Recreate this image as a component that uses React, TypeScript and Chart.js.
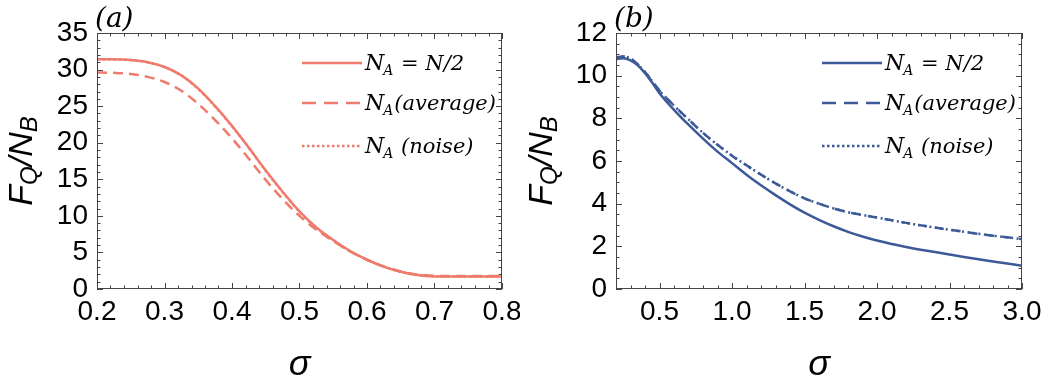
import React, { useEffect, useRef } from 'react';
import { Chart, registerables } from 'chart.js';
Chart.register(...registerables);

// ---------- Panel (a) data ----------
const sigmaA = [0.2, 0.225, 0.25, 0.275, 0.3, 0.325, 0.35, 0.375, 0.4, 0.425, 0.45, 0.475, 0.5, 0.525, 0.55, 0.575, 0.6, 0.625, 0.65, 0.675, 0.7, 0.725, 0.75, 0.775, 0.8];
const halfA = [31.4, 31.4, 31.3, 31.0, 30.35, 29.2, 27.4, 25.0, 22.3, 19.3, 16.2, 13.3, 10.6, 8.4, 6.7, 5.2, 4.0, 3.05, 2.35, 1.9, 1.72, 1.7, 1.7, 1.7, 1.7];
const averageA = [29.6, 29.55, 29.4, 29.0, 28.3, 27.1, 25.3, 23.1, 20.6, 17.8, 14.9, 12.3, 10.0, 8.1, 6.55, 5.15, 4.0, 3.05, 2.4, 1.95, 1.8, 1.78, 1.78, 1.78, 1.78];
const noiseA = [31.4, 31.4, 31.3, 31.0, 30.35, 29.2, 27.35, 24.95, 22.25, 19.3, 16.15, 13.25, 10.55, 8.35, 6.65, 5.15, 4.0, 3.05, 2.35, 1.9, 1.75, 1.72, 1.72, 1.72, 1.72];
const xTicksA = [0.2, 0.3, 0.4, 0.5, 0.6, 0.7, 0.8];
const xLabelsA = ['0.2', '0.3', '0.4', '0.5', '0.6', '0.7', '0.8'];
const yTicksA = [0, 5, 10, 15, 20, 25, 30, 35];
const yLabelsA = ['0', '5', '10', '15', '20', '25', '30', '35'];

// ---------- Panel (b) data ----------
const sigmaB = [0.2, 0.25, 0.3, 0.35, 0.4, 0.45, 0.5, 0.6, 0.7, 0.8, 0.9, 1.0, 1.1, 1.2, 1.3, 1.4, 1.5, 1.6, 1.7, 1.8, 1.9, 2.0, 2.2, 2.4, 2.6, 2.8, 3.0];
const halfB = [10.78, 10.82, 10.72, 10.48, 10.12, 9.67, 9.18, 8.4, 7.7, 7.05, 6.44, 5.9, 5.36, 4.86, 4.4, 3.97, 3.58, 3.24, 2.94, 2.68, 2.46, 2.27, 1.97, 1.73, 1.5, 1.29, 1.09];
const averageB = [10.85, 10.9, 10.8, 10.53, 10.17, 9.74, 9.3, 8.6, 7.95, 7.32, 6.76, 6.25, 5.8, 5.36, 4.95, 4.58, 4.25, 4.0, 3.78, 3.6, 3.47, 3.35, 3.1, 2.88, 2.68, 2.5, 2.34];
const noiseB = [10.85, 10.9, 10.8, 10.53, 10.17, 9.74, 9.3, 8.6, 7.95, 7.32, 6.76, 6.25, 5.8, 5.36, 4.95, 4.58, 4.25, 4.0, 3.78, 3.6, 3.47, 3.35, 3.1, 2.88, 2.68, 2.5, 2.34];
const xTicksB = [0.5, 1.0, 1.5, 2.0, 2.5, 3.0];
const xLabelsB = ['0.5', '1.0', '1.5', '2.0', '2.5', '3.0'];
const yTicksB = [0, 2, 4, 6, 8, 10, 12];
const yLabelsB = ['0', '2', '4', '6', '8', '10', '12'];

const legendRest = [' = N/2', '(average)', ' (noise)'];
const seriesNames = ['N_A = N/2', 'N_A(average)', 'N_A (noise)'];

const colorA = '#EE7B6B';
const colorB = '#3D5A98';

const TICK_FONT = '"Liberation Sans", Arial, sans-serif';
const SERIF = '"DejaVu Serif", serif';

function toPoints(xs: number[], ys: number[]) {
  return xs.map((x, i) => ({ x, y: ys[i] }));
}

const framePlugin = {
  id: 'frame',
  afterDraw(chart: any) {
    const cfg = chart.options.plugins.frame;
    if (!cfg) return;
    const ctx = chart.ctx;
    const { left, right, top, bottom } = chart.chartArea;
    const xs = chart.scales.x;
    const ys = chart.scales.y;
    ctx.save();
    ctx.strokeStyle = '#444';
    ctx.lineWidth = 1;
    ctx.setLineDash([]);
    ctx.strokeRect(Math.round(left) + 0.5, Math.round(top) + 0.5, Math.round(right - left) - 1, Math.round(bottom - top) - 1);
    const drawXTicks = (min: number, max: number, minor: number, major: number) => {
      const n = Math.round((max - min) / minor);
      for (let i = 0; i <= n; i++) {
        const v = min + i * minor;
        const isMajor = Math.abs(v / major - Math.round(v / major)) < 1e-6;
        const len = isMajor ? 6 : 3.5;
        const px = Math.round(xs.getPixelForValue(v)) + 0.5;
        ctx.beginPath();
        ctx.moveTo(px, bottom);
        ctx.lineTo(px, bottom - len);
        ctx.moveTo(px, top);
        ctx.lineTo(px, top + len);
        ctx.stroke();
      }
    };
    const drawYTicks = (min: number, max: number, minor: number, major: number) => {
      const n = Math.round((max - min) / minor);
      for (let i = 0; i <= n; i++) {
        const v = min + i * minor;
        const isMajor = Math.abs(v / major - Math.round(v / major)) < 1e-6;
        const len = isMajor ? 6 : 3.5;
        const py = Math.round(ys.getPixelForValue(v)) + 0.5;
        ctx.beginPath();
        ctx.moveTo(left, py);
        ctx.lineTo(left + len, py);
        ctx.moveTo(right, py);
        ctx.lineTo(right - len, py);
        ctx.stroke();
      }
    };
    drawXTicks(cfg.xMin, cfg.xMax, cfg.xMinor, cfg.xMajor);
    drawYTicks(cfg.yMin, cfg.yMax, cfg.yMinor, cfg.yMajor);

    ctx.fillStyle = '#000';
    ctx.font = `italic 28px ${SERIF}`;
    ctx.textAlign = 'left';
    ctx.textBaseline = 'alphabetic';
    ctx.fillText(cfg.panel, left - 2, 27);

    ctx.font = `italic 36px ${TICK_FONT}`;
    ctx.textAlign = 'center';
    ctx.fillText('σ', (left + right) / 2, 375);

    ctx.save();
    ctx.translate(22, (top + bottom) / 2);
    ctx.rotate(-Math.PI / 2);
    const big = `italic 34px ${TICK_FONT}`;
    const small = `italic 24px ${TICK_FONT}`;
    const parts: [string, string, number][] = [
      ['F', big, 0],
      ['Q', small, 7],
      ['/', big, 0],
      ['N', big, 0],
      ['B', small, 7],
    ];
    let total = 0;
    parts.forEach(([t, f]) => { ctx.font = f; total += ctx.measureText(t).width; });
    let cx = -total / 2;
    ctx.textAlign = 'left';
    ctx.textBaseline = 'middle';
    parts.forEach(([t, f, dy]) => {
      ctx.font = f;
      ctx.fillText(t, cx, dy + 1);
      cx += ctx.measureText(t).width;
    });
    ctx.restore();

    const lx0 = cfg.legendX;
    const lx1 = lx0 + 60;
    const lys = [63, 103, 146];
    const dashes = [[], [14, 8], [2.5, 2.5]];
    lys.forEach((ly, i) => {
      ctx.strokeStyle = cfg.color;
      ctx.lineWidth = 2.5;
      ctx.setLineDash(dashes[i]);
      ctx.beginPath();
      ctx.moveTo(lx0, ly);
      ctx.lineTo(lx1, ly);
      ctx.stroke();
      ctx.setLineDash([]);
      ctx.fillStyle = '#000';
      ctx.textAlign = 'left';
      ctx.textBaseline = 'alphabetic';
      let tx = lx1 + 3;
      const base = ly + 7;
      ctx.font = `italic 22px ${SERIF}`;
      ctx.fillText('N', tx, base);
      tx += ctx.measureText('N').width - 1;
      ctx.font = `italic 14px ${SERIF}`;
      ctx.fillText('A', tx, base + 5);
      tx += ctx.measureText('A').width + 1;
      ctx.font = `italic 21px ${SERIF}`;
      ctx.fillText(legendRest[i], tx, base);
    });
    ctx.restore();
  },
};

interface PanelCfg {
  x: number;
  w: number;
  left: number;
  right: number;
  panel: string;
  color: string;
  sigma: number[];
  half: number[];
  average: number[];
  noise: number[];
  xMin: number; xMax: number; xMinor: number; xMajor: number;
  yMin: number; yMax: number; yMinor: number; yMajor: number;
  xTicks: number[]; xLabels: string[];
  yTicks: number[]; yLabels: string[];
  avgDash: number[];
}

function Panel({ cfg }: { cfg: PanelCfg }) {
  const ref = useRef<HTMLCanvasElement | null>(null);
  useEffect(() => {
    if (!ref.current) return;
    const chart = new Chart(ref.current, {
      type: 'line',
      data: {
        datasets: [
          {
            label: seriesNames[0],
            data: toPoints(cfg.sigma, cfg.half),
            borderColor: cfg.color,
            borderWidth: 2.5,
            pointRadius: 0,
            cubicInterpolationMode: 'monotone',
            order: 1,
          },
          {
            label: seriesNames[1],
            data: toPoints(cfg.sigma, cfg.average),
            borderColor: cfg.color,
            borderWidth: 2.5,
            borderDash: cfg.avgDash,
            pointRadius: 0,
            cubicInterpolationMode: 'monotone',
            order: 2,
          },
          {
            label: seriesNames[2],
            data: toPoints(cfg.sigma, cfg.noise),
            borderColor: cfg.color,
            borderWidth: 2.5,
            borderDash: [2, 3.5],
            borderCapStyle: 'butt',
            pointRadius: 0,
            cubicInterpolationMode: 'monotone',
            order: 0,
          },
        ] as any,
      },
      options: {
        responsive: false,
        animation: false,
        devicePixelRatio: 1,
        layout: { padding: { left: 0, right: cfg.w - cfg.right, top: 33, bottom: 0 } },
        plugins: {
          legend: { display: false },
          tooltip: { enabled: false },
          frame: {
            panel: cfg.panel,
            color: cfg.color,
            legendX: 302,
            xMin: cfg.xMin, xMax: cfg.xMax, xMinor: cfg.xMinor, xMajor: cfg.xMajor,
            yMin: cfg.yMin, yMax: cfg.yMax, yMinor: cfg.yMinor, yMajor: cfg.yMajor,
          },
        } as any,
        scales: {
          x: {
            type: 'linear',
            min: cfg.xMin,
            max: cfg.xMax,
            grid: { display: false, drawTicks: false },
            border: { display: false },
            afterBuildTicks: (s: any) => { s.ticks = cfg.xTicks.map((v) => ({ value: v })); },
            afterFit: (s: any) => { s.height = 383 - 289; s.paddingLeft = 0; s.paddingRight = 0; },
            ticks: {
              autoSkip: false,
              maxRotation: 0,
              color: '#000',
              padding: 6,
              font: { family: TICK_FONT, size: 28 },
              callback: (_v: any, i: number) => cfg.xLabels[i],
            },
          },
          y: {
            type: 'linear',
            min: cfg.yMin,
            max: cfg.yMax,
            grid: { display: false, drawTicks: false },
            border: { display: false },
            afterBuildTicks: (s: any) => { s.ticks = cfg.yTicks.map((v) => ({ value: v })); },
            afterFit: (s: any) => { s.width = cfg.left; s.paddingTop = 0; s.paddingBottom = 0; },
            ticks: {
              autoSkip: false,
              color: '#000',
              padding: 9,
              font: { family: TICK_FONT, size: 28 },
              callback: (_v: any, i: number) => cfg.yLabels[i],
            },
          },
        } as any,
      },
      plugins: [framePlugin],
    });
    return () => chart.destroy();
  }, []);
  return (
    <canvas
      ref={ref}
      width={cfg.w}
      height={383}
      style={{ position: 'absolute', left: cfg.x, top: 0, width: cfg.w, height: 383, display: 'block' }}
    />
  );
}

const panelA: PanelCfg = {
  x: 0, w: 520, left: 97, right: 502, panel: '(a)', color: colorA,
  sigma: sigmaA, half: halfA, average: averageA, noise: noiseA,
  xMin: 0.2, xMax: 0.8, xMinor: 0.02, xMajor: 0.1,
  yMin: 0, yMax: 35, yMinor: 1, yMajor: 5,
  xTicks: xTicksA, xLabels: xLabelsA, yTicks: yTicksA, yLabels: yLabelsA,
  avgDash: [10, 6],
};

const panelB: PanelCfg = {
  x: 520, w: 521, left: 96, right: 502, panel: '(b)', color: colorB,
  sigma: sigmaB, half: halfB, average: averageB, noise: noiseB,
  xMin: 0.2, xMax: 3.0, xMinor: 0.1, xMajor: 0.5,
  yMin: 0, yMax: 12, yMinor: 0.5, yMajor: 2,
  xTicks: xTicksB, xLabels: xLabelsB, yTicks: yTicksB, yLabels: yLabelsB,
  avgDash: [9, 8],
};

export default function App() {
  return (
    <div style={{ position: 'fixed', left: 0, top: 0, width: 1041, height: 383, background: '#fff', overflow: 'hidden' }}>
      <Panel cfg={panelA} />
      <Panel cfg={panelB} />
    </div>
  );
}
